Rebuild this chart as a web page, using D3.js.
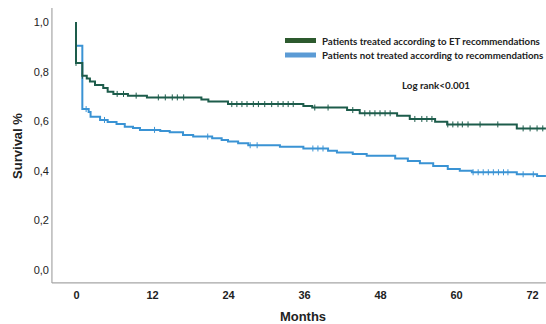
<!DOCTYPE html>
<html>
<head>
<meta charset="utf-8">
<script src="https://cdn.jsdelivr.net/npm/d3@7"></script>
<style>
  body { margin: 0; background: #fff; }
  svg { display: block; font-family: "Liberation Sans", Arial, sans-serif; }
</style>
</head>
<body>
<div class="chartHolder"></div>
<script>
let width = 546,
  height = 324;

// month range shown by the axes and the tick values
let monthMin = -3.8,
  monthMax = 74.2;
let xTicks = [0, 12, 24, 36, 48, 60, 72];
let yTicks = [0, 0.2, 0.4, 0.6, 0.8, 1.0];

// Kaplan-Meier steps: time of event (months) and survival after the step
let treatedTimes = [0, 0, 1.0, 1.7, 2.2, 3.0, 4.3, 5.0, 5.9, 8.2, 11.2, 19.8, 20.9, 24.0, 35.9, 37.3, 42.8, 44.8, 50.7, 52.7, 56.7, 58.6, 69.6];
let treatedSurv = [1.0, 0.835, 0.783, 0.772, 0.76, 0.746, 0.734, 0.719, 0.71, 0.703, 0.696, 0.688, 0.679, 0.669, 0.661, 0.655, 0.645, 0.632, 0.622, 0.609, 0.598, 0.587, 0.571];
let treatedCensor = [0, 1.0, 6.5, 7.5, 9.5, 13, 14.1, 15.2, 16, 17, 24.6, 25.4, 26.2, 27, 28, 28.8, 29.8, 30.9, 31.9, 32.7, 33.5, 34.3, 37.7, 39.8, 43.7, 45.6, 46.4, 47.2, 48, 48.8, 49.6, 53.5, 54.6, 55.4, 56.2, 58.7, 59.5, 60.3, 61, 61.9, 63.8, 66.6, 70.6, 71.7, 72.8, 73.7];

let notTreatedTimes = [0, 0, 1.0, 2.0, 2.3, 3.8, 5.0, 6.4, 7.7, 9.0, 10.1, 13.3, 14.8, 16.9, 18.5, 21.5, 23.0, 24.0, 25.6, 27.2, 32.2, 35.9, 39.8, 41.2, 43.7, 45.9, 50.4, 52.4, 54.3, 56.4, 58.7, 60.6, 62.5, 69.6, 72.8];
let notTreatedSurv = [1.0, 0.904, 0.649, 0.637, 0.618, 0.605, 0.597, 0.589, 0.578, 0.573, 0.565, 0.56, 0.555, 0.544, 0.538, 0.531, 0.524, 0.518, 0.511, 0.503, 0.497, 0.49, 0.481, 0.474, 0.468, 0.461, 0.45, 0.44, 0.43, 0.419, 0.407, 0.4, 0.394, 0.386, 0.379];
let notTreatedCensor = [1.6, 4.5, 12.4, 20.8, 27.5, 28.6, 37.4, 38.2, 39, 62.7, 63.5, 64.3, 65.1, 65.9, 66.7, 67.5, 68.2, 70.6, 72.2];

let legendLabels = ["Patients treated according to ET recommendations", "Patients not treated according to recommendations"];
let lineColors = ["#1d5c4b", "#3a93d4"];
let swatchColors = ["#2d5a2e", "#5b9bd5"];

let svgChart = d3
  .select(".chartHolder")
  .append("svg")
  .attr("width", width)
  .attr("height", height);

// scales
let xScale = d3.scaleLinear().domain([0, 72]).range([76, 532]);
let yScale = d3.scaleLinear().domain([0, 1]).range([270, 22]);
let yBottom = -0.052,
  yTop = 1.056;

////////////  AXES  ////////////
// axis frame lines (grey)
svgChart
  .append("line")
  .attr("x1", xScale(monthMin))
  .attr("x2", xScale(monthMax))
  .attr("y1", yScale(yBottom))
  .attr("y2", yScale(yBottom))
  .attr("stroke", "#a6a6a6")
  .attr("stroke-width", 1.2);
svgChart
  .append("line")
  .attr("x1", xScale(monthMin))
  .attr("x2", xScale(monthMin))
  .attr("y1", yScale(yBottom))
  .attr("y2", yScale(yTop))
  .attr("stroke", "#a6a6a6")
  .attr("stroke-width", 1.2);

let yAxis = d3
  .axisLeft(yScale)
  .tickValues(yTicks)
  .tickSize(0)
  .tickPadding(0)
  .tickFormat((d) => d3.format(".1f")(d).replace(".", ","));
let yAxisGroup = svgChart
  .append("g")
  .attr("transform", "translate(" + (xScale(monthMin) - 3) + ",0)")
  .call(yAxis);
yAxisGroup.select(".domain").remove();
yAxisGroup
  .selectAll("text")
  .attr("font-size", 11)
  .attr("font-family", "Liberation Sans, Arial, sans-serif")
  .attr("fill", "#222");

let xAxis = d3.axisBottom(xScale).tickValues(xTicks).tickSize(0).tickPadding(0);
let xAxisGroup = svgChart
  .append("g")
  .attr("transform", "translate(0," + (yScale(yBottom) + 8) + ")")
  .call(xAxis);
xAxisGroup.select(".domain").remove();
xAxisGroup
  .selectAll("text")
  .attr("font-size", 11)
  .attr("font-weight", "bold")
  .attr("font-family", "Liberation Sans, Arial, sans-serif")
  .attr("fill", "#222");

// axis titles
svgChart
  .append("text")
  .attr("x", 303)
  .attr("y", 321)
  .attr("text-anchor", "middle")
  .attr("font-size", 13)
  .attr("font-weight", "bold")
  .attr("fill", "#222")
  .text("Months");
svgChart
  .append("text")
  .attr("transform", "translate(22,146) rotate(-90)")
  .attr("text-anchor", "middle")
  .attr("font-size", 13)
  .attr("font-weight", "bold")
  .attr("fill", "#222")
  .text("Survival %");

////////////  CURVES  ////////////
function stepPoints(times, surv) {
  let pts = times.map((t, i) => [t, surv[i]]);
  pts.push([monthMax, surv[surv.length - 1]]);
  return pts;
}
// survival at time t (right-continuous step function)
function survAt(times, surv, t) {
  let v = surv[0];
  times.forEach((tt, i) => {
    if (tt <= t) v = surv[i];
  });
  return v;
}

let line = d3
  .line()
  .x((d) => xScale(d[0]))
  .y((d) => yScale(d[1]))
  .curve(d3.curveStepAfter);

let series = [
  { times: notTreatedTimes, surv: notTreatedSurv, censor: notTreatedCensor, color: lineColors[1] },
  { times: treatedTimes, surv: treatedSurv, censor: treatedCensor, color: lineColors[0] }
];

series.forEach((s) => {
  svgChart
    .append("path")
    .datum(stepPoints(s.times, s.surv))
    .attr("d", line)
    .attr("fill", "none")
    .attr("stroke", s.color)
    .attr("stroke-width", 2);

  svgChart
    .append("g")
    .selectAll("line")
    .data(s.censor)
    .enter()
    .append("line")
    .attr("x1", (d) => xScale(d))
    .attr("x2", (d) => xScale(d))
    .attr("y1", (d) => yScale(survAt(s.times, s.surv, d)) - 3)
    .attr("y2", (d) => yScale(survAt(s.times, s.surv, d)) + 3)
    .attr("stroke", s.color)
    .attr("stroke-width", 1);
});

////////////  LEGEND  ////////////
let legend = svgChart.append("g").attr("transform", "translate(285,38)");
legendLabels.forEach((label, i) => {
  legend
    .append("rect")
    .attr("x", 0)
    .attr("y", i * 14.5)
    .attr("width", 31)
    .attr("height", 5)
    .attr("fill", swatchColors[i]);
  legend
    .append("text")
    .attr("x", 37)
    .attr("y", i * 14.5 + 6.5)
    .attr("font-family", "Lato, 'Open Sans', sans-serif")
    .attr("font-size", 9.7)
    .attr("font-weight", "bold")
    .attr("fill", "#222")
    .text(label);
});

svgChart
  .append("text")
  .attr("x", 436)
  .attr("y", 89)
  .attr("text-anchor", "middle")
  .attr("font-family", "Lato, 'Open Sans', sans-serif")
  .attr("font-size", 9.8)
  .attr("font-weight", "bold")
  .attr("fill", "#222")
  .text("Log rank<0.001");
</script>
</body>
</html>
